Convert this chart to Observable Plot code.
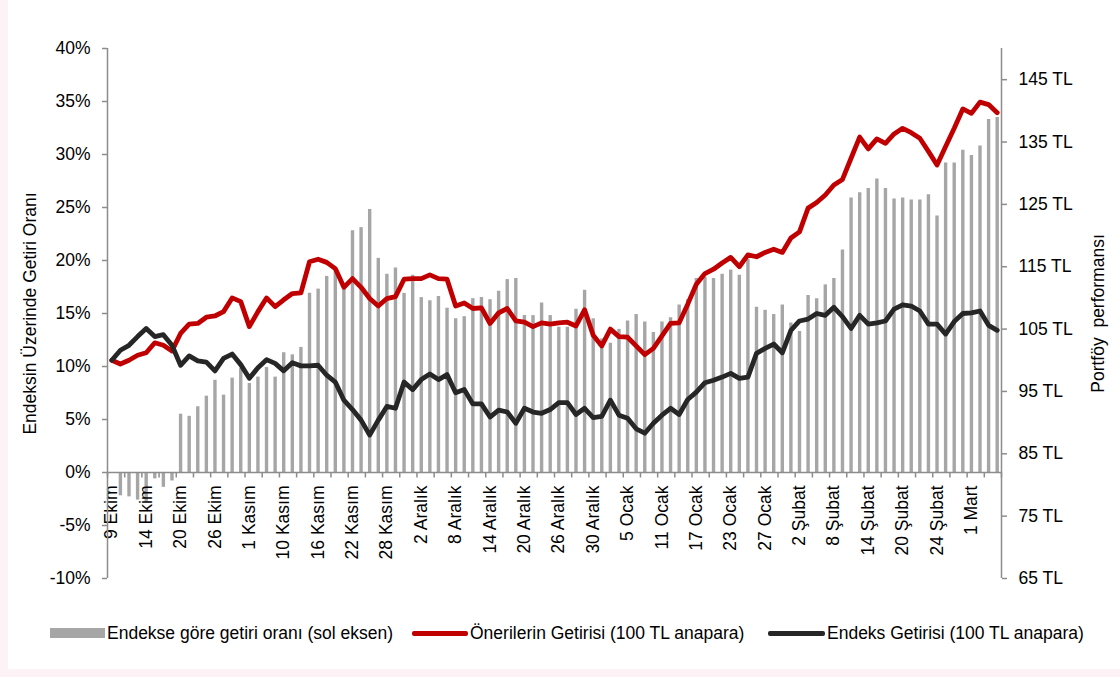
<!DOCTYPE html>
<html>
<head>
<meta charset="utf-8">
<script src="https://cdn.jsdelivr.net/npm/d3@7"></script>
<script src="https://cdn.jsdelivr.net/npm/@observablehq/plot@0.6"></script>
<style>
  html, body { margin: 0; padding: 0; background: #ffffff; }
  #page { position: relative; width: 1120px; height: 677px; overflow: hidden; background: #fff; }
  #stripL { position: absolute; left: 0; top: 0; width: 8px; height: 677px; background: #fdf2f5; }
  #stripB { position: absolute; left: 0; top: 669px; width: 1120px; height: 8px; background: #fdf2f5; }
  #chart { position: absolute; left: 0; top: 0; }
  .leg { position: absolute; top: 621px; height: 24px; line-height: 24px; font-family: "Liberation Sans", Arial, sans-serif; font-size: 17.5px; color: #000; white-space: nowrap; }
  .sw { position: absolute; }
</style>
</head>
<body>
<div id="page">
  <div id="stripL"></div>
  <div id="stripB"></div>
  <div id="chart"></div>
  <div class="sw" style="left:50px; top:628px; width:55px; height:10px; background:#a6a6a6;"></div>
  <div class="leg" style="left:107px;">Endekse göre getiri oranı (sol eksen)</div>
  <div class="sw" style="left:412px; top:631px; width:56px; height:5px; background:#c00000; border-radius:2px;"></div>
  <div class="leg" style="left:470px;">Önerilerin Getirisi (100 TL anapara)</div>
  <div class="sw" style="left:768px; top:631px; width:57px; height:5px; background:#262626; border-radius:2px;"></div>
  <div class="leg" style="left:827px;">Endeks Getirisi (100 TL anapara)</div>
</div>
<script>
// X-axis labels (every 4th trading day, starting with the first)
const tickLabels = ["9 Ekim","14 Ekim","20 Ekim","26 Ekim","1 Kasım","10 Kasım","16 Kasım","22 Kasım","28 Kasım",
  "2 Aralık","8 Aralık","14 Aralık","20 Aralık","26 Aralık","30 Aralık","5 Ocak","11 Ocak","17 Ocak","23 Ocak",
  "27 Ocak","2 Şubat","8 Şubat","14 Şubat","20 Şubat","24 Şubat","1 Mart"];

// Relative return vs index (%), left axis
const rel = [
  0, -2.2, -2.3, -2.6, -2.8, -0.6, -1.4, -0.8, 5.5, 5.3,
  6.2, 7.2, 8.7, 7.3, 8.9, 9.8, 8.4, 9.0, 9.9, 9.0,
  11.3, 11.1, 11.8, 16.9, 17.3, 18.5, 19.3, 17.6, 22.8, 23.1,
  24.8, 20.2, 18.7, 19.3, 16.9, 18.6, 16.5, 16.2, 16.6, 15.5,
  14.5, 14.7, 16.4, 16.5, 16.3, 17.1, 18.2, 18.3, 14.8, 14.8,
  16.0, 14.8, 13.7, 13.7, 15.4, 17.2, 14.5, 12.6, 12.2, 13.5,
  14.3, 14.9, 14.2, 13.2, 14.2, 14.6, 15.8, 16.3, 18.3, 18.4,
  18.3, 18.7, 19.1, 18.6, 20.1, 15.6, 15.3, 14.9, 15.8, 14.1,
  13.3, 16.7, 16.4, 17.7, 18.3, 21.0, 25.9, 26.4, 26.8, 27.7,
  26.8, 25.8, 25.9, 25.7, 25.7, 26.2, 24.2, 29.2, 29.2, 30.4,
  29.9, 30.8, 33.3, 33.5
];

// Recommendations portfolio (TL, right axis)
const recs = [
  100.0, 99.4, 100.0, 100.8, 101.2, 102.8, 102.4, 101.5, 104.3, 105.8,
  105.9, 106.9, 107.1, 107.8, 110.0, 109.4, 105.4, 107.8, 110.0, 108.6,
  109.7, 110.7, 110.8, 115.8, 116.2, 115.7, 114.7, 111.7, 113.1, 111.7,
  109.9, 108.7, 109.9, 110.2, 113.0, 113.1, 113.1, 113.7, 113.1, 113.0,
  108.7, 109.2, 108.3, 108.4, 105.9, 107.6, 108.3, 106.3, 106.1, 105.4,
  106.0, 105.8, 106.0, 106.1, 105.5, 108.1, 104.0, 102.3, 105.0, 103.8,
  103.7, 102.3, 100.9, 101.9, 103.9, 105.9, 106.0, 109.0, 112.2, 113.9,
  114.6, 115.6, 116.5, 115.0, 116.9, 116.6, 117.3, 117.8, 117.3, 119.6,
  120.6, 124.4, 125.3, 126.5, 128.1, 129.0, 132.4, 135.8, 133.9, 135.5,
  134.8, 136.3, 137.2, 136.5, 135.6, 133.5, 131.3, 134.3, 137.2, 140.3,
  139.6, 141.4, 141.0, 139.7
];

// Index portfolio (TL, right axis)
const index = [
  100.0, 101.6, 102.4, 103.8, 105.1, 103.8, 104.1, 102.4, 99.2, 100.7,
  99.9, 99.7, 98.3, 100.3, 101.0, 99.3, 97.1, 98.8, 100.1, 99.5,
  98.3, 99.6, 99.1, 99.1, 99.2, 97.6, 96.5, 93.6, 92.1, 90.4,
  88.0, 90.4, 92.6, 92.3, 96.5, 95.3, 96.9, 97.8, 96.9, 97.7,
  94.8, 95.3, 93.0, 93.0, 90.9, 92.0, 91.7, 89.9, 92.3, 91.7,
  91.5, 92.1, 93.2, 93.2, 91.3, 92.3, 90.8, 91.0, 93.6, 91.2,
  90.7, 89.0, 88.3, 89.9, 91.2, 92.3, 91.3, 93.7, 94.9, 96.4,
  96.8, 97.3, 97.9, 97.1, 97.3, 101.1, 101.9, 102.6, 101.2, 104.8,
  106.3, 106.6, 107.5, 107.2, 108.5, 107.0, 105.1, 107.2, 105.8, 106.0,
  106.3, 108.2, 108.9, 108.7, 107.9, 105.8, 105.8, 104.2, 106.2, 107.5,
  107.6, 107.9, 105.6, 104.8
];

const leftTicks = [-10, -5, 0, 5, 10, 15, 20, 25, 30, 35, 40];
const rightTicks = [65, 75, 85, 95, 105, 115, 125, 135, 145];
const leftTitle = "Endeksin Üzerinde Getiri Oranı";
const rightTitle = "Portföy  performansı";

// right axis domain [65,150] mapped onto left axis domain [-10,40]
const toLeft = v => -10 + (v - 65) * 50 / 85;
const fromLeft = p => 65 + (p + 10) * 85 / 50;

const data = rel.map((r, i) => ({i, rel: r, recs: recs[i], idx: index[i]}));
const labelData = tickLabels.map((t, k) => ({i: k * 4, t}));
const xTicks = d3.range(0, Math.floor(data.length / 2) + 1).map(k => 2 * k - 0.5);
const tickSym = {draw(ctx) { ctx.moveTo(0, 0); ctx.lineTo(0, 5); }};
const axisColor = "#8c8c8c";
const font = "'Liberation Sans', Arial, Helvetica, sans-serif";

const chart = Plot.plot({
  width: 1120,
  height: 600,
  marginLeft: 107,
  marginRight: 119,
  marginTop: 48,
  marginBottom: 22,
  x: {domain: [-0.5, data.length - 0.5], axis: null},
  y: {domain: [-10, 40], axis: null},
  style: {fontFamily: font, fontSize: "17.5px", color: "#000", background: "transparent", overflow: "visible"},
  marks: [
    Plot.ruleX(data, {x: "i", y1: 0, y2: "rel", stroke: "#a6a6a6", strokeWidth: 3.4}),
    Plot.ruleY([0], {stroke: axisColor, strokeWidth: 1.5}),
    Plot.dot(xTicks, {x: d => d, y: 0, symbol: tickSym, stroke: axisColor, fill: "none", strokeWidth: 1.5}),
    Plot.text(labelData, {x: "i", y: 0, text: "t", rotate: -90, textAnchor: "end", dy: 13, fill: "#000"}),
    Plot.ruleX([-0.5], {stroke: axisColor, strokeWidth: 1.5}),
    Plot.ruleX([data.length - 0.5], {stroke: axisColor, strokeWidth: 1.5}),
    Plot.axisY(leftTicks, {anchor: "left", tickSize: 5, tickPadding: 12, tickFormat: d => d + "%", stroke: axisColor, strokeWidth: 1.5, label: null}),
    Plot.axisY(rightTicks.map(toLeft), {anchor: "right", tickSize: 5, tickPadding: 12, tickFormat: d => Math.round(fromLeft(d)) + " TL", stroke: axisColor, strokeWidth: 1.5, label: null}),
    Plot.lineY(data, {x: "i", y: d => toLeft(d.recs), stroke: "#c00000", strokeWidth: 4.8, strokeLinejoin: "round"}),
    Plot.lineY(data, {x: "i", y: d => toLeft(d.idx), stroke: "#262626", strokeWidth: 4.8, strokeLinejoin: "round"}),
    Plot.text([leftTitle], {frameAnchor: "left", dx: -77, rotate: -90, textAnchor: "middle", text: d => d, fill: "#000"}),
    Plot.text([rightTitle], {frameAnchor: "right", dx: 97, rotate: -90, textAnchor: "middle", text: d => d, fill: "#000"})
  ]
});
document.getElementById("chart").appendChild(chart);
</script>
</body>
</html>
